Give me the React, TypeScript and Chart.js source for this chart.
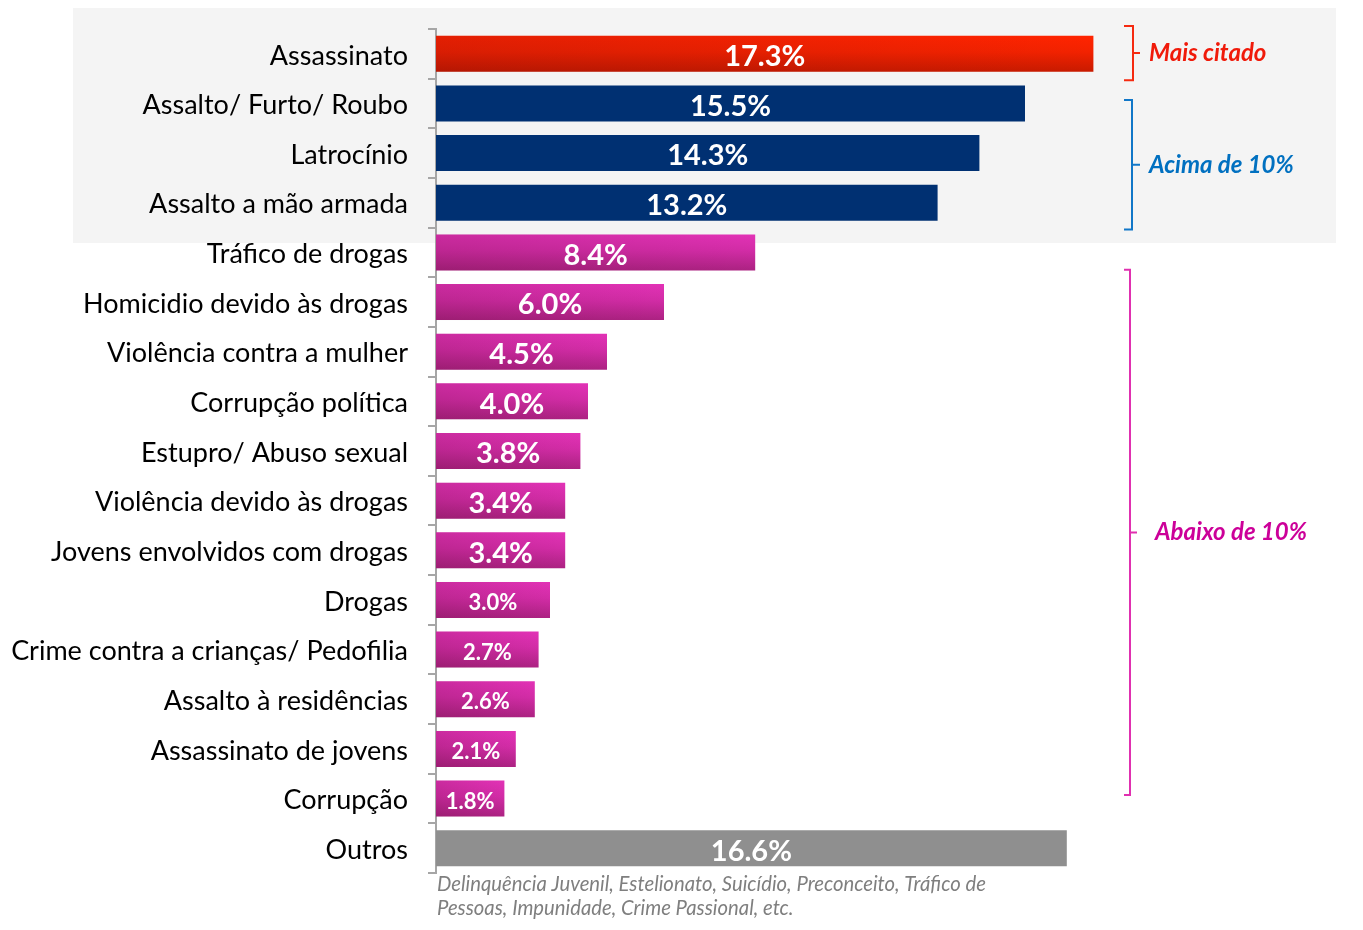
import { useEffect, useRef } from "react";
import { Chart, registerables } from "chart.js";

Chart.register(...registerables);

const categories = [
  "Assassinato",
  "Assalto/ Furto/ Roubo",
  "Latrocínio",
  "Assalto a mão armada",
  "Tráfico de drogas",
  "Homicidio devido às drogas",
  "Violência contra a mulher",
  "Corrupção política",
  "Estupro/ Abuso sexual",
  "Violência devido às drogas",
  "Jovens envolvidos com drogas",
  "Drogas",
  "Crime contra a crianças/ Pedofilia",
  "Assalto à residências",
  "Assassinato de jovens",
  "Corrupção",
  "Outros",
];

const values = [17.3, 15.5, 14.3, 13.2, 8.4, 6.0, 4.5, 4.0, 3.8, 3.4, 3.4, 3.0, 2.7, 2.6, 2.1, 1.8, 16.6];

const groups = [
  "red", "blue", "blue", "blue",
  "pink", "pink", "pink", "pink", "pink", "pink", "pink", "pink", "pink", "pink", "pink", "pink",
  "grey",
];

const valueLabels = ["17.3%", "15.5%", "14.3%", "13.2%", "8.4%", "6.0%", "4.5%", "4.0%", "3.8%", "3.4%", "3.4%", "3.0%", "2.7%", "2.6%", "2.1%", "1.8%", "16.6%"];

const bracketLabels = ["Mais citado", "Acima de 10%", "Abaixo de 10%"];
const bracketColors = ["#F01A0A", "#0070C0", "#CC0099"];
const bracketLineColors = ["#F52A10", "#1177C8", "#E030B0"];
// fractional category indices (top, bottom)
const bracketSpans = [
  [-0.56, 0.53],
  [0.93, 3.54],
  [4.35, 14.93],
];

const footnoteLines = [
  "Delinquência Juvenil, Estelionato, Suicídio, Preconceito, Tráfico de",
  "Pessoas, Impunidade, Crime Passional, etc.",
];

const FONT = "Lato, 'Noto Sans', sans-serif";

export default function App() {
  const ref = useRef<HTMLCanvasElement | null>(null);

  useEffect(() => {
    document.body.style.margin = "0";
    const canvas = ref.current;
    if (!canvas) return;

    const colorFor = (c: any) => {
      const g = groups[c.dataIndex];
      if (g === "blue") return "#003072";
      if (g === "grey") return "#8F8F8F";
      const chart = c.chart;
      const ys = chart.scales?.y;
      if (!ys || !chart.chartArea) return g === "red" ? "#E82000" : "#C82A9A";
      const yc = ys.getPixelForValue(c.dataIndex);
      const grd = chart.ctx.createLinearGradient(0, yc + 18, 0, yc - 18);
      if (g === "red") {
        grd.addColorStop(0, "#C81A00");
        grd.addColorStop(0.55, "#F22200");
        grd.addColorStop(1, "#FF2400");
      } else {
        grd.addColorStop(0, "#AC2282");
        grd.addColorStop(0.55, "#D22CA6");
        grd.addColorStop(1, "#E232B6");
      }
      return grd;
    };

    const decorPlugin = {
      id: "decor",
      beforeDraw(chart: any) {
        const ctx = chart.ctx;
        ctx.save();
        ctx.fillStyle = "#F4F4F4";
        ctx.fillRect(73, 8, 1263, 235);
        ctx.restore();
      },
      afterDatasetsDraw(chart: any) {
        const ctx = chart.ctx;
        const meta = chart.getDatasetMeta(0);
        // subtle horizontal shading on gradient bars
        meta.data.forEach((el: any, i: number) => {
          const g = groups[i];
          if (g !== "red" && g !== "pink") return;
          const h = el.height;
          const x0 = Math.min(el.x, el.base);
          const x1 = Math.max(el.x, el.base);
          const sh = ctx.createLinearGradient(x0, 0, x1, 0);
          sh.addColorStop(0, "rgba(60,0,20,0.14)");
          sh.addColorStop(1, "rgba(60,0,20,0)");
          ctx.save();
          ctx.fillStyle = sh;
          ctx.fillRect(x0, el.y - h / 2, x1 - x0, h);
          ctx.restore();
        });

        ctx.save();
        ctx.fillStyle = "#FFFFFF";
        ctx.textAlign = "center";
        ctx.textBaseline = "middle";
        meta.data.forEach((el: any, i: number) => {
          const cx = (el.x + el.base) / 2;
          const big = values[i] >= 3.4;
          ctx.font = `bold ${big ? 29 : 22}px ${FONT}`;
          ctx.fillText(valueLabels[i], cx, el.y + 3);
        });
        ctx.restore();

        // brackets
        const ys = chart.scales.y;
        const step = ys.getPixelForValue(1) - ys.getPixelForValue(0);
        const c0 = ys.getPixelForValue(0);
        const vx = [1133, 1132, 1130];
        const tx = [1149, 1149, 1155];
        const tickR = [1140, 1140, 1137];
        bracketSpans.forEach((span, k) => {
          const top = c0 + span[0] * step;
          const bot = c0 + span[1] * step;
          const mid = (top + bot) / 2;
          ctx.save();
          ctx.strokeStyle = bracketLineColors[k];
          ctx.lineWidth = 2;
          ctx.beginPath();
          ctx.moveTo(1124, top);
          ctx.lineTo(vx[k], top);
          ctx.lineTo(vx[k], bot);
          ctx.lineTo(1124, bot);
          ctx.moveTo(vx[k], mid);
          ctx.lineTo(tickR[k], mid);
          ctx.stroke();
          ctx.fillStyle = bracketColors[k];
          ctx.font = `italic bold 24px ${FONT}`;
          ctx.textAlign = "left";
          ctx.textBaseline = "middle";
          ctx.fillText(bracketLabels[k], tx[k], mid);
          ctx.restore();
        });

        // footnote
        ctx.save();
        ctx.fillStyle = "#7F7F7F";
        ctx.font = `italic 20.3px ${FONT}`;
        ctx.textAlign = "left";
        ctx.textBaseline = "middle";
        footnoteLines.forEach((line, i) => {
          ctx.fillText(line, 437, 884 + i * 24);
        });
        ctx.restore();
      },
    };

    const chart = new Chart(canvas, {
      type: "bar",
      data: {
        labels: categories,
        datasets: [
          {
            data: values,
            backgroundColor: colorFor as any,
            borderWidth: 0,
            categoryPercentage: 1,
            barPercentage: 0.725,
          },
        ],
      },
      options: {
        indexAxis: "y",
        responsive: false,
        animation: false,
        layout: { padding: { left: 0, right: 167, top: 29, bottom: 57 } },
        plugins: {
          legend: { display: false },
          tooltip: { enabled: false },
        },
        scales: {
          x: {
            display: false,
            min: 0,
            max: 20,
          },
          y: {
            afterFit(scale: any) {
              scale.width = 436;
              scale.paddingTop = 0;
              scale.paddingBottom = 0;
            },
            border: { display: true, color: "#A6A6A6", width: 2 },
            grid: {
              display: true,
              offset: true,
              drawOnChartArea: false,
              drawTicks: true,
              tickLength: 8,
              color: "#A6A6A6",
              lineWidth: 2,
            },
            ticks: {
              color: "#000000",
              padding: 20,
              labelOffset: 2,
              font: { family: FONT, size: 27 },
            },
          },
        },
      },
      plugins: [decorPlugin],
    });

    return () => chart.destroy();
  }, []);

  return <canvas ref={ref} width={1363} height={930} style={{ display: "block", width: 1363, height: 930 }} />;
}
